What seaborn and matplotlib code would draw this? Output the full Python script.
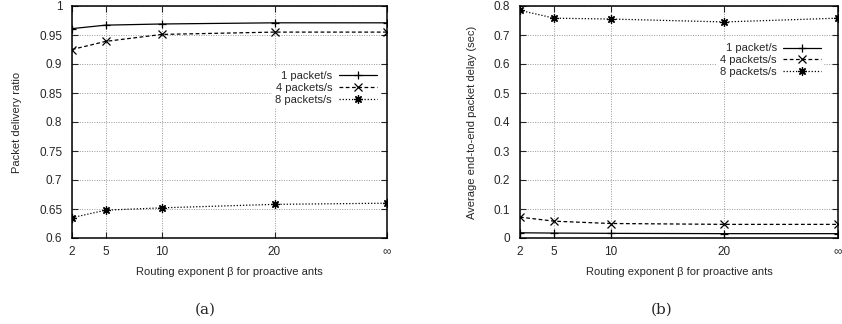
import matplotlib
matplotlib.use('Agg')
import matplotlib.pyplot as plt
import seaborn as sns
import pandas as pd

# Data
beta_labels = ['2', '5', '10', '20', '\u221e']
beta_pos = [2, 5, 10, 20, 30]  # infinity drawn at the far end of the axis

series_names = ['1 packet/s', '4 packets/s', '8 packets/s']

# (a) packet delivery ratio
pdr_1 = [0.961, 0.967, 0.969, 0.971, 0.971]
pdr_4 = [0.925, 0.939, 0.951, 0.955, 0.955]
pdr_8 = [0.635, 0.648, 0.652, 0.658, 0.660]

# (b) average end-to-end delay (sec)
delay_1 = [0.018, 0.017, 0.016, 0.015, 0.015]
delay_4 = [0.072, 0.058, 0.050, 0.047, 0.047]
delay_8 = [0.785, 0.758, 0.755, 0.745, 0.758]

sns.set_style('ticks')
plt.rcParams['font.family'] = ['Liberation Sans', 'DejaVu Sans']
plt.rcParams['font.size'] = 8

# gnuplot-like styles: solid/+, dashed/x, dotted/asterisk
styles = {
    '1 packet/s': dict(marker='+', ls='-'),
    '4 packets/s': dict(marker='x', ls=(0, (3, 2))),
    '8 packets/s': dict(marker=(8, 2, 0), ls=(0, (1, 1.5))),
}


def draw_panel(ax, values, yticks, ylabel, legend_anchor):
    for name, vals in zip(series_names, values):
        df = pd.DataFrame({'beta': beta_pos, 'value': vals})
        st = styles[name]
        sns.lineplot(data=df, x='beta', y='value', ax=ax, color='black',
                     linewidth=0.9, linestyle=st['ls'], marker=st['marker'],
                     markersize=6, markeredgewidth=0.9, markeredgecolor='black',
                     label=name)
    ax.set_xlim(2, 30)
    ax.set_xticks(beta_pos)
    ax.set_xticklabels(beta_labels)
    ax.set_ylim(yticks[0], yticks[-1])
    ax.set_yticks(yticks)
    ax.set_yticklabels(['%g' % t for t in yticks])
    ax.grid(True, color='#999999', linestyle=(0, (1, 1.5)), linewidth=0.7)
    ax.tick_params(direction='in', top=True, right=True, length=4, width=0.8,
                   labelsize=8.5)
    ax.tick_params(axis='x', pad=6)
    ax.tick_params(axis='y', pad=7)
    for sp in ax.spines.values():
        sp.set_linewidth(1.1)
        sp.set_color('black')
    ax.set_xlabel('Routing exponent \u03b2 for proactive ants', fontsize=8, labelpad=6)
    ax.set_ylabel(ylabel, fontsize=8, labelpad=12)
    leg = ax.legend(loc='center right', bbox_to_anchor=legend_anchor,
                    markerfirst=False, frameon=True, framealpha=1,
                    edgecolor='none', facecolor='white', fancybox=False,
                    handlelength=3.4, handletextpad=0.6, labelspacing=0.15,
                    borderpad=0.3, fontsize=8)
    leg.set_zorder(5)


fig = plt.figure(figsize=(8.42, 3.24), dpi=100)
ax_a = fig.add_axes([72 / 842, 86 / 324, 315 / 842, 232 / 324])
ax_b = fig.add_axes([520 / 842, 86 / 324, 318 / 842, 232 / 324])

draw_panel(ax_a, [pdr_1, pdr_4, pdr_8],
           [0.6, 0.65, 0.7, 0.75, 0.8, 0.85, 0.9, 0.95, 1.0],
           'Packet delivery ratio', (0.995, 0.647))
draw_panel(ax_b, [delay_1, delay_4, delay_8],
           [0, 0.1, 0.2, 0.3, 0.4, 0.5, 0.6, 0.7, 0.8],
           'Average end-to-end packet delay (sec)', (0.975, 0.767))

fig.text(205 / 842, 1 - 310 / 324, '(a)', ha='center', va='center',
         family='DejaVu Serif', fontsize=11)
fig.text(662 / 842, 1 - 310 / 324, '(b)', ha='center', va='center',
         family='DejaVu Serif', fontsize=11)

fig.savefig('out.png', dpi=100)
